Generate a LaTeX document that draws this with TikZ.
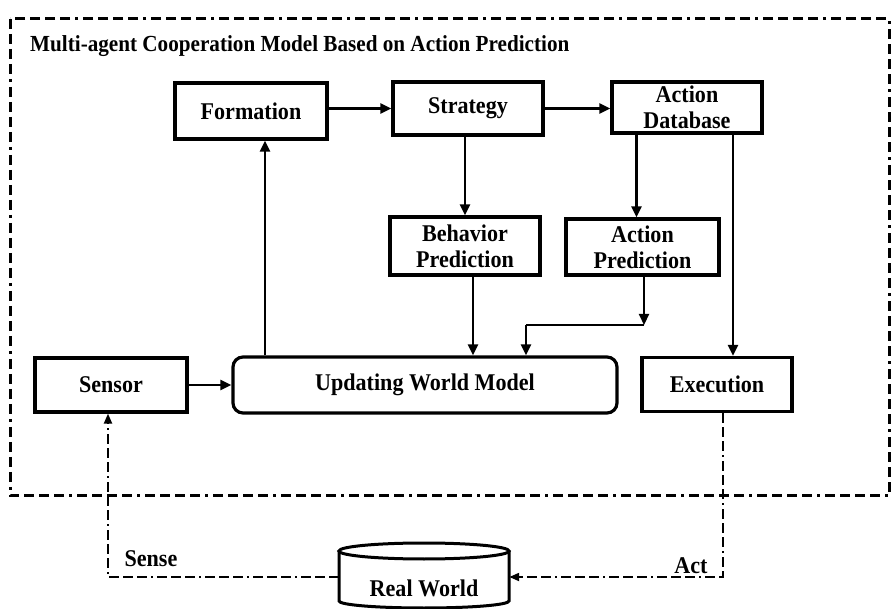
\documentclass[tikz,border=0pt]{standalone}
\usepackage{fontspec}
\setmainfont{Liberation Serif}
\newfontfamily\cndfont[FakeStretch=0.92]{Liberation Serif}
\usetikzlibrary{arrows.meta}
\newcommand\lblfont{\cndfont\bfseries\fontsize{24}{26}\selectfont}
\newcommand\ttlfont{\cndfont\bfseries\fontsize{23}{25}\selectfont}
\begin{document}
\begin{tikzpicture}[x=1pt,y=-1pt,
  box/.style={draw, line width=3.2pt, minimum width=150pt, minimum height=54pt, inner sep=0pt, align=center, font=\lblfont},
  arr/.style={line width=2.2pt, -{Triangle[length=11pt,width=10pt]}},
  ln/.style={line width=2.2pt},
  dsh/.style={line width=2pt, dash pattern=on 10pt off 4pt on 10pt off 4pt on 10pt off 4pt on 2pt off 4pt, -{Triangle[length=10pt,width=8pt]}},
  frame/.style={line width=3pt, dash pattern=on 10pt off 5pt on 10pt off 5pt on 10pt off 5pt on 10pt off 5pt on 3pt off 5pt},
  lab/.style={font=\lblfont, inner sep=0pt}
]
\useasboundingbox (0,0) rectangle (892,609);
\fill[white] (0,0) rectangle (892,609);
\draw[frame] (10,19) rectangle (889,496);
\node[anchor=west, font=\ttlfont, inner sep=0pt] (title) at (30,46) {Multi-agent Cooperation Model Based on Action Prediction};

\node[box, minimum width=152pt, minimum height=56pt] (form) at (251,111) {Formation};
\node[box, minimum height=53pt] (strat) at (468,108.5) {Strategy};
\node[box, minimum height=51pt] (ad) at (687,107.5) {Action\\Database};
\node[box, minimum height=58pt] (bp) at (465,246) {Behavior\\Prediction};
\node[box, minimum width=153pt, minimum height=56pt] (ap) at (642.5,247) {Action\\Prediction};
\node[box, minimum width=152pt] (sensor) at (111,385) {Sensor};
\node[box, rounded corners=10pt, minimum width=384pt, minimum height=56pt] (uwm) at (425,385) {Updating World Model};
\node[box] (exec) at (717,384.5) {Execution};

% Real World cylinder
\node[lab, minimum width=170pt, minimum height=40pt] (rw) at (424,588) {Real World};
\draw[line width=3pt] (424,551) ellipse [x radius=85pt, y radius=8pt];
\draw[line width=3pt] (339,551) -- (339,601) arc[start angle=180, end angle=360, x radius=85pt, y radius=7pt] -- (509,551);

% solid connectors
\draw[arr] (form.east |- strat.west) -- (strat.west);
\draw[arr] (strat.east) -- (ad.west |- strat.east);
\draw[arr] (bp.north |- strat.south) -- (bp.north);
\draw[arr] ([xshift=-6pt]ap.north |- ad.south) -- ([xshift=-6pt]ap.north);
\draw[arr] ([xshift=16pt]exec.north |- ad.south) -- ([xshift=16pt]exec.north);
\draw[arr] ([xshift=8pt]bp.south) -- ([xshift=8pt]bp.south |- uwm.north);
\coordinate (j2) at (644,325);
\coordinate (j1) at (526,325);
\draw[arr] (ap.south -| j2) -- (j2);
\draw[ln] (j2) -- (j1);
\draw[arr] (j1) -- (j1 |- uwm.north);
\draw[arr] ([xshift=14pt]form.south |- uwm.north) -- ([xshift=14pt]form.south);
\draw[arr] (sensor.east) -- (uwm.west);

% dashed connectors
\coordinate (sl) at (108,577);
\coordinate (al) at (723,577);
\draw[dsh] (rw.west |- sl) -- (sl) -- (sensor.south -| sl);
\draw[dsh] (exec.south -| al) -- (al) -- (rw.east |- al);
\node[lab] (sense) at (151,559) {Sense};
\node[lab] (act) at (691,566) {Act};
\end{tikzpicture}
\end{document}
